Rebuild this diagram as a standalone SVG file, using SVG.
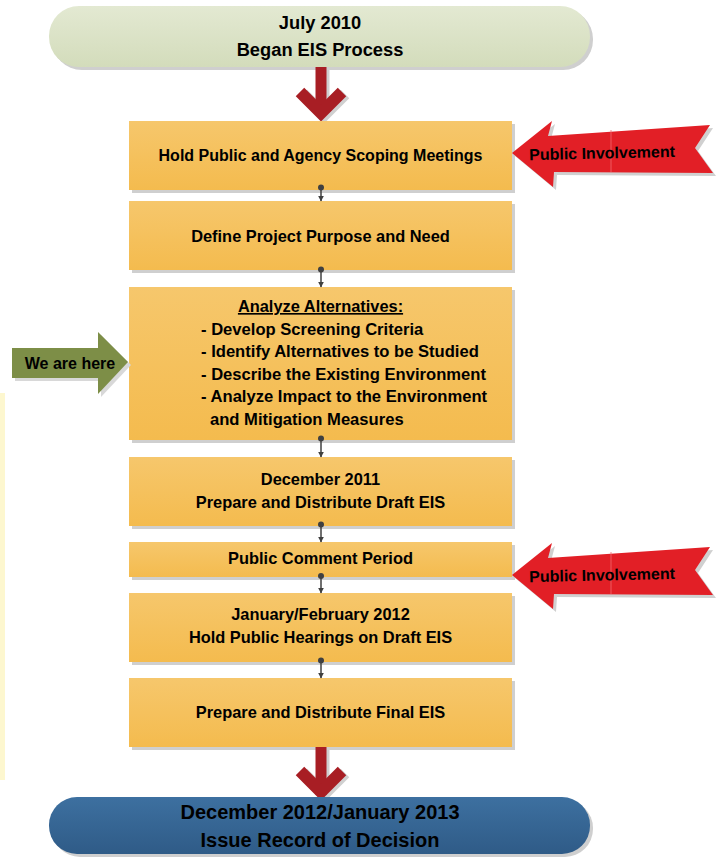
<svg xmlns="http://www.w3.org/2000/svg" width="718" height="858" viewBox="0 0 718 858">
<defs>
<linearGradient id="gBox" x1="0" y1="0" x2="0" y2="1"><stop offset="0" stop-color="#f6c76c"/><stop offset="1" stop-color="#f4bb4e"/></linearGradient>
<linearGradient id="gTop" x1="0" y1="0" x2="0" y2="1"><stop offset="0" stop-color="#e3e9d2"/><stop offset="1" stop-color="#d3dcbb"/></linearGradient>
<linearGradient id="gBot" x1="0" y1="0" x2="0" y2="1"><stop offset="0" stop-color="#3d70a0"/><stop offset="1" stop-color="#2f5b87"/></linearGradient>
<marker id="ah" viewBox="0 0 10 10" refX="9" refY="5" markerWidth="6" markerHeight="6" markerUnits="userSpaceOnUse" orient="auto"><path d="M0,0 L10,5 L0,10 Z" fill="#404040"/></marker>
<polygon id="pi" points="512,153 552,121 548,136 710,125 695,148 713,173 554,172 553,187"/>
</defs>
<style>
.t{font-family:"Liberation Sans",Arial,sans-serif;font-weight:bold;fill:#000;}
.box{fill:url(#gBox);}
.sh{fill:#cfcfcf;}
.con{stroke:#404040;stroke-width:1.5;fill:none;marker-end:url(#ah);}
.dot{fill:#404040;}
.redS{stroke:#a81e24;fill:none;}
</style>

<rect x="0" y="393" width="5" height="387" fill="#fdf7cf"/>

<g id="start">
<rect x="52" y="9" width="541" height="61" rx="30" class="sh"/>
<rect x="49" y="6" width="541" height="61" rx="30" fill="url(#gTop)"/>
<text class="t" x="320" y="28.5" font-size="18.3" text-anchor="middle">July 2010</text>
<text class="t" x="320" y="55.5" font-size="18.3" text-anchor="middle">Began EIS Process</text>
</g>

<g id="arrowTop">
<g transform="translate(3,2)" stroke="#d0d0d0" fill="none">
<line x1="321" y1="67" x2="321" y2="115" stroke-width="11"/>
<polyline points="300,92 321,113 342,92" stroke-width="12" stroke-miterlimit="10"/>
</g>
<line x1="321" y1="67" x2="321" y2="115" stroke-width="11" class="redS"/>
<polyline points="300,92 321,113 342,92" stroke-width="12" stroke-miterlimit="10" class="redS"/>
</g>

<g id="box1">
<rect x="132" y="124" width="383" height="69" class="sh"/>
<rect x="129" y="121" width="383" height="69" class="box"/>
<text class="t" x="320.5" y="160.5" font-size="16" text-anchor="middle">Hold Public and Agency Scoping Meetings</text>
</g>
<g id="box2">
<rect x="132" y="204" width="383" height="69" class="sh"/>
<rect x="129" y="201" width="383" height="69" class="box"/>
<text class="t" x="320.5" y="241.5" font-size="16.4" text-anchor="middle">Define Project Purpose and Need</text>
</g>
<g id="box3">
<rect x="132" y="290" width="383" height="153" class="sh"/>
<rect x="129" y="287" width="383" height="153" class="box"/>
<text class="t" x="320.5" y="312" font-size="16.4" text-anchor="middle" text-decoration="underline">Analyze Alternatives:</text>
<text class="t" x="201" y="334.5" font-size="16.6">- Develop Screening Criteria</text>
<text class="t" x="201" y="357" font-size="16.6">- Identify Alternatives to be Studied</text>
<text class="t" x="201" y="379.5" font-size="16.6">- Describe the Existing Environment</text>
<text class="t" x="201" y="402" font-size="16.6">- Analyze Impact to the Environment</text>
<text class="t" x="210" y="424.5" font-size="16.6">and Mitigation Measures</text>
</g>
<g id="box4">
<rect x="132" y="460" width="383" height="69" class="sh"/>
<rect x="129" y="457" width="383" height="69" class="box"/>
<text class="t" x="320.5" y="484.5" font-size="16.4" text-anchor="middle">December 2011</text>
<text class="t" x="320.5" y="507.5" font-size="16.4" text-anchor="middle">Prepare and Distribute Draft EIS</text>
</g>
<g id="box5">
<rect x="132" y="545" width="383" height="35" class="sh"/>
<rect x="129" y="542" width="383" height="35" class="box"/>
<text class="t" x="320.5" y="563.5" font-size="16.4" text-anchor="middle">Public Comment Period</text>
</g>
<g id="box6">
<rect x="132" y="596" width="383" height="69" class="sh"/>
<rect x="129" y="593" width="383" height="69" class="box"/>
<text class="t" x="320.5" y="619.5" font-size="16.4" text-anchor="middle">January/February 2012</text>
<text class="t" x="320.5" y="642.5" font-size="16.4" text-anchor="middle">Hold Public Hearings on Draft EIS</text>
</g>
<g id="box7">
<rect x="132" y="681" width="383" height="69" class="sh"/>
<rect x="129" y="678" width="383" height="69" class="box"/>
<text class="t" x="320.5" y="717.5" font-size="16.4" text-anchor="middle">Prepare and Distribute Final EIS</text>
</g>

<g id="connectors">
<circle cx="321" cy="187.5" r="3" class="dot"/><line x1="321" y1="188" x2="321" y2="201" class="con"/>
<circle cx="321" cy="269.5" r="3" class="dot"/><line x1="321" y1="270" x2="321" y2="287" class="con"/>
<circle cx="321" cy="438.5" r="3" class="dot"/><line x1="321" y1="439" x2="321" y2="457" class="con"/>
<circle cx="321" cy="524.5" r="3" class="dot"/><line x1="321" y1="525" x2="321" y2="542" class="con"/>
<circle cx="321" cy="576" r="3" class="dot"/><line x1="321" y1="576.5" x2="321" y2="593" class="con"/>
<circle cx="321" cy="660.5" r="3" class="dot"/><line x1="321" y1="661" x2="321" y2="678" class="con"/>
</g>

<g id="arrowBottom">
<g transform="translate(3,2)" stroke="#d0d0d0" fill="none">
<line x1="321" y1="747" x2="321" y2="795" stroke-width="11"/>
<polyline points="300,771 321,792 342,771" stroke-width="12" stroke-miterlimit="10"/>
</g>
<line x1="321" y1="747" x2="321" y2="795" stroke-width="11" class="redS"/>
<polyline points="300,771 321,792 342,771" stroke-width="12" stroke-miterlimit="10" class="redS"/>
</g>

<g id="end">
<rect x="52" y="800" width="541" height="57" rx="28" class="sh"/>
<rect x="49" y="797" width="541" height="57" rx="28" fill="url(#gBot)"/>
<text class="t" x="320" y="819" font-size="20" text-anchor="middle">December 2012/January 2013</text>
<text class="t" x="320" y="847" font-size="20" text-anchor="middle">Issue Record of Decision</text>
</g>

<g id="public1">
<use href="#pi" transform="translate(3,3)" fill="#d0d0d0"/>
<use href="#pi" fill="#e21f26"/>
<line x1="611" y1="130" x2="611" y2="172" stroke="#f26a6e" stroke-width="0.8"/>
<text class="t" x="602" y="158.5" font-size="16" text-anchor="middle" transform="rotate(-1.3 602 153)">Public Involvement</text>
</g>
<g id="public2" transform="translate(0,422)">
<use href="#pi" transform="translate(3,3)" fill="#d0d0d0"/>
<use href="#pi" fill="#e21f26"/>
<line x1="611" y1="130" x2="611" y2="172" stroke="#f26a6e" stroke-width="0.8"/>
<text class="t" x="602" y="158.5" font-size="16" text-anchor="middle" transform="rotate(-1.3 602 153)">Public Involvement</text>
</g>

<g id="weAreHere">
<polygon points="15,351 101,351 101,335 131,365 101,397 101,381 15,381" fill="#d8d8d8"/>
<polygon points="12,348 98,348 98,332 128,362 98,394 98,378 12,378" fill="#7d8e47"/>
<text class="t" x="70" y="368.5" font-size="16" text-anchor="middle">We are here</text>
</g>
</svg>
